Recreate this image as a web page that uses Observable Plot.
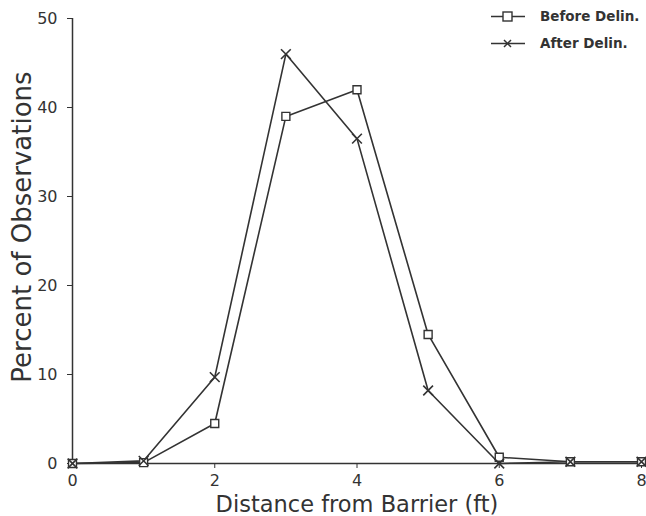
<!DOCTYPE html>
<html>
<head>
<meta charset="utf-8">
<script src="https://cdn.jsdelivr.net/npm/d3@7"></script>
<script src="https://cdn.jsdelivr.net/npm/@observablehq/plot@0.6"></script>
<style>
  body { margin: 0; background: #fff; }
  #wrap { position: relative; width: 646px; height: 516px; font-family: "DejaVu Sans", sans-serif; }
  #legend { position: absolute; top: 3px; left: 490px; font-size: 13.5px; font-weight: bold; color: #333; line-height: 27px; }
  #legend div { display: flex; align-items: center; }
  #legend svg { margin-right: 14px; }
</style>
</head>
<body>
<div id="wrap">
  <div id="chart"></div>
  <div id="legend"></div>
</div>
<script>
const distance = [0, 1, 2, 3, 4, 5, 6, 7, 8];
const beforeDelin = [0, 0.1, 4.5, 39, 42, 14.5, 0.7, 0.2, 0.2];
const afterDelin = [0, 0.3, 9.7, 46, 36.5, 8.2, 0, 0.2, 0.2];
const seriesNames = ["Before Delin.", "After Delin."];
const xTicks = [0, 2, 4, 6, 8];
const yTicks = [0, 10, 20, 30, 40, 50];

const before = distance.map((d, i) => ({x: d, y: beforeDelin[i], s: seriesNames[0]}));
const after = distance.map((d, i) => ({x: d, y: afterDelin[i], s: seriesNames[1]}));
const ink = "#333";

const plot = Plot.plot({
  width: 646,
  height: 516,
  marginLeft: 72,
  marginRight: 5,
  marginTop: 18,
  marginBottom: 53,
  style: {fontFamily: "DejaVu Sans, sans-serif", color: ink, background: "#fff", overflow: "visible"},
  x: {domain: [0, 8]},
  y: {domain: [0, 50]},
  marks: [
    Plot.ruleY([0], {stroke: ink, strokeWidth: 1.5}),
    Plot.ruleX([0], {stroke: ink, strokeWidth: 1.5}),
    Plot.axisX({ticks: xTicks, tickSize: 5, tickPadding: 6, fontSize: 16, stroke: ink,
      label: "Distance from Barrier (ft)", labelAnchor: "center", labelArrow: "none", labelOffset: 48}),
    Plot.axisY({ticks: yTicks, tickSize: 5, tickPadding: 10, fontSize: 16, stroke: ink,
      label: "Percent of Observations", labelAnchor: "center", labelArrow: "none", labelOffset: 60}),
    Plot.line(before, {x: "x", y: "y", stroke: ink, strokeWidth: 1.6}),
    Plot.line(after, {x: "x", y: "y", stroke: ink, strokeWidth: 1.6}),
    Plot.dot(before, {x: "x", y: "y", symbol: "square", r: 4.5, stroke: ink, fill: "#fff", strokeWidth: 1.4}),
    Plot.dot(after, {x: "x", y: "y", symbol: "times", r: 4.5, stroke: ink, strokeWidth: 1.6})
  ]
});
plot.querySelectorAll('g[aria-label="x-axis label"] text').forEach(t => t.setAttribute("font-size", 22.5));
plot.querySelectorAll('g[aria-label="y-axis label"] text').forEach(t => { t.setAttribute("font-size", 26); t.setAttribute("dx", 14); });
document.getElementById("chart").appendChild(plot);

const legend = document.getElementById("legend");
seriesNames.forEach((name, i) => {
  const row = document.createElement("div");
  const sym = i === 0
    ? '<rect x="13" y="5" width="9" height="9" fill="#fff" stroke="#333" stroke-width="1.4"/>'
    : '<path d="M14 6 L21 13 M21 6 L14 13" stroke="#333" stroke-width="1.5"/>';
  row.innerHTML = '<svg width="36" height="20"><line x1="1" x2="35" y1="9.5" y2="9.5" stroke="#333" stroke-width="1.5"/>' + sym + '</svg><span>' + name + '</span>';
  legend.appendChild(row);
});
</script>
</body>
</html>
